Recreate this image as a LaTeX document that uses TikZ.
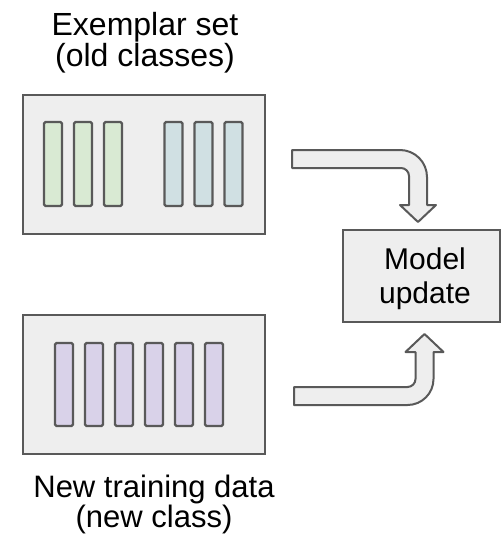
\documentclass[tikz,border=0pt]{standalone}
\usepackage{fontspec}
\setmainfont{Liberation Sans}
\definecolor{bord}{HTML}{595959}
\definecolor{boxfill}{HTML}{EEEEEE}
\definecolor{gbar}{HTML}{D9EAD3}
\definecolor{bbar}{HTML}{D0E0E3}
\definecolor{pbar}{HTML}{D9D2E9}
\begin{document}
\begin{tikzpicture}[x=1pt,y=-1pt,
  panel/.style={draw=bord, fill=boxfill, line width=2pt, inner sep=0},
  bar/.style={draw=bord, line width=2.4pt, rounded corners=1.5pt, minimum width=18pt, minimum height=84pt, inner sep=0},
  blockarrow/.style={draw=bord, fill=boxfill, line width=2pt, line join=round},
  lbl/.style={align=center, inner sep=0, anchor=base}]
\useasboundingbox (0,0) rectangle (503,541);
\fill[white] (0,0) rectangle (503,541);
% panels
\node[panel, minimum width=242pt, minimum height=139pt] (ex) at (144,164.5) {};
\node[panel, minimum width=242pt, minimum height=139pt] (nd) at (144,384.5) {};
\node[panel, minimum width=157pt, minimum height=92pt] (model) at (421.5,276) {};
\node[lbl, font=\fontsize{30}{34}\selectfont] (modeltext) at (425,303.5) {Model\\update};
% bars
\foreach \i in {0,1,2} {
  \node[bar, fill=gbar] (g\i) at (53+30*\i,164) {};
  \node[bar, fill=bbar] (b\i) at (173.5+30*\i,164) {};
}
\foreach \i in {0,...,5} {
  \node[bar, fill=pbar, minimum height=83pt] (p\i) at (64+30*\i,384.5) {};
}
% labels
\node[lbl, font=\fontsize{32}{28.5}\selectfont] (extext) at (145,66) {Exemplar set\\(old classes)};
\node[lbl, font=\fontsize{31}{28.5}\selectfont] (ndtext) at (154,527) {New training data\\(new class)};
% block arrows
\draw[blockarrow] (292,150) -- (400,150) .. controls (414.9,150) and (427,162.1) .. (427,177)
  -- (427,205) -- (436,205) -- (418,222) -- (400,205) -- (409,205) -- (409,176)
  .. controls (409,171.6) and (405.4,168) .. (401,168) -- (292,168) -- cycle;
\draw[blockarrow] (294,387) -- (407.5,387) .. controls (411.9,387) and (415.5,383.4) .. (415.5,379)
  -- (415.5,352) -- (405.5,352) -- (424.5,334) -- (443.5,352) -- (433.5,352) -- (433.5,379)
  .. controls (433.5,393.4) and (421.9,405) .. (407.5,405) -- (294,405) -- cycle;
\end{tikzpicture}
\end{document}
